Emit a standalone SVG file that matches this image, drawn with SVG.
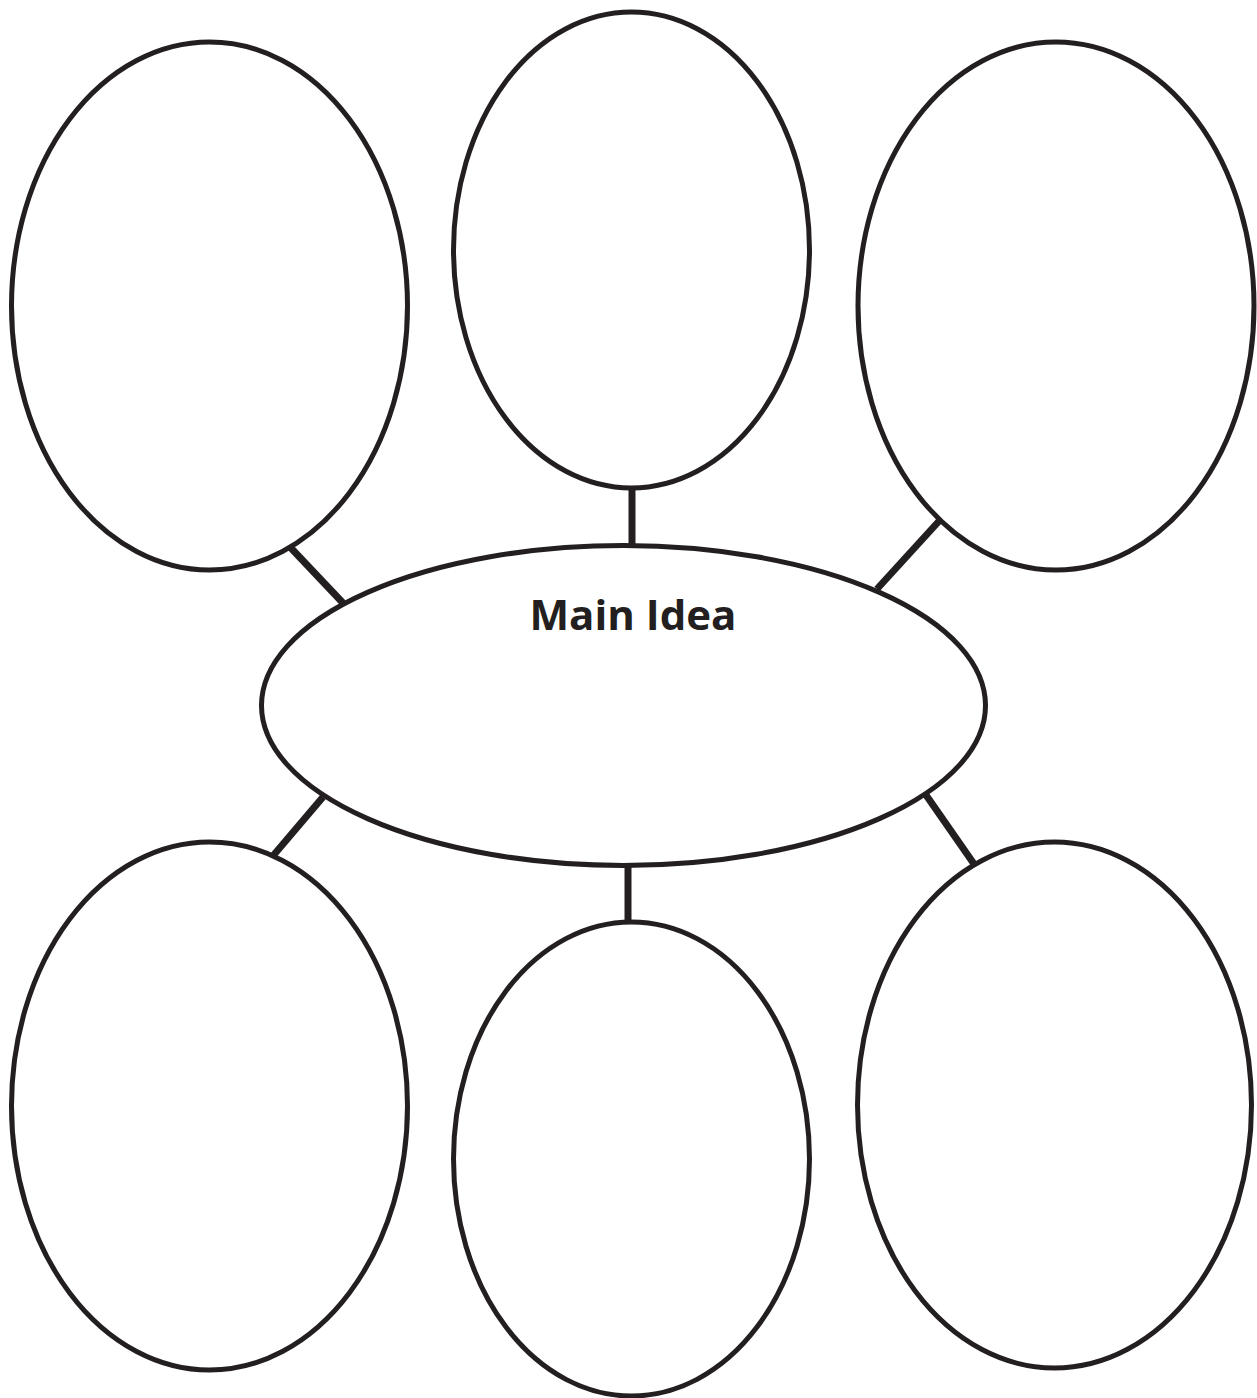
<svg xmlns="http://www.w3.org/2000/svg" width="1257" height="1398" viewBox="0 0 1257 1398">
<style>
.node{fill:none;stroke:#231f20;stroke-width:5}
.conn{stroke:#231f20;stroke-width:7;fill:none}
.label{font-family:"Open Sans","Liberation Sans",sans-serif;font-weight:bold;font-size:42px;fill:#231f20}
</style>
<rect width="1257" height="1398" fill="#fff"/>
<g id="connectors">
<line class="conn" x1="290" y1="547" x2="343" y2="603"/>
<line class="conn" x1="632" y1="488" x2="632" y2="546"/>
<line class="conn" x1="940" y1="520" x2="877" y2="589"/>
<line class="conn" x1="323" y1="797" x2="272" y2="857"/>
<line class="conn" x1="628" y1="866" x2="628" y2="923"/>
<line class="conn" x1="926" y1="795" x2="974" y2="864"/>
</g>
<g id="top-left"><ellipse class="node" cx="209.5" cy="306" rx="198" ry="264"/></g>
<g id="top-middle"><ellipse class="node" cx="631.5" cy="250" rx="178" ry="238"/></g>
<g id="top-right"><ellipse class="node" cx="1056" cy="306" rx="198" ry="264"/></g>
<g id="main"><ellipse class="node" cx="623.5" cy="705.5" rx="362" ry="160"/>
<text class="label" x="633" y="630" text-anchor="middle">Main Idea</text></g>
<g id="bottom-left"><ellipse class="node" cx="209.5" cy="1106" rx="198" ry="264"/></g>
<g id="bottom-middle"><ellipse class="node" cx="631.5" cy="1159" rx="178" ry="237"/></g>
<g id="bottom-right"><ellipse class="node" cx="1054.5" cy="1105" rx="197" ry="263"/></g>
</svg>
